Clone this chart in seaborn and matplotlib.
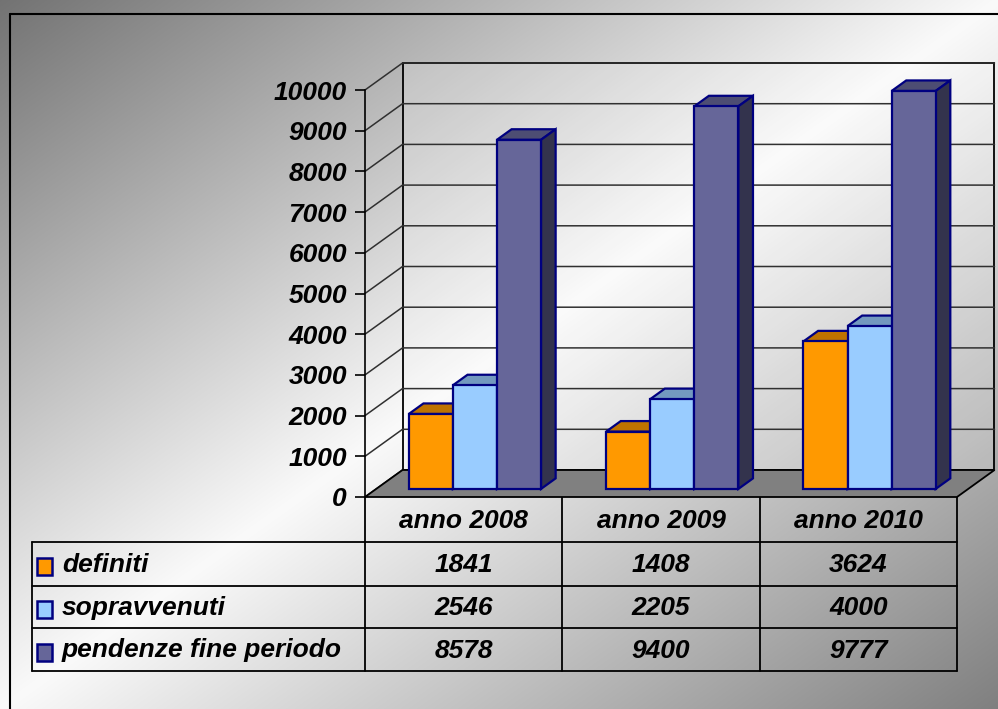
import numpy as np
import pandas as pd
import matplotlib
matplotlib.use("Agg")
import matplotlib.pyplot as plt
import seaborn as sns
from matplotlib.patches import Polygon, Rectangle
from matplotlib.transforms import ScaledTranslation

# data
years = ["anno 2008", "anno 2009", "anno 2010"]
series = ["definiti", "sopravvenuti", "pendenze fine periodo"]
definiti = [1841, 1408, 3624]
sopravvenuti = [2546, 2205, 4000]
pendenze = [8578, 9400, 9777]
colors = ["#FF9900", "#99CCFF", "#666699"]

df = pd.DataFrame({
    "anno": years * 3,
    "serie": [s for s in series for _ in years],
    "valore": definiti + sopravvenuti + pendenze,
})

sns.set_style("white")
plt.rcParams["font.family"] = ["Liberation Sans", "DejaVu Sans"]
FONT = dict(fontsize=19, fontweight="bold", fontstyle="italic", color="black")

W, H = 998, 709
fig = plt.figure(figsize=(W / 100, H / 100), dpi=100)
dpi = fig.dpi


def box(x0, y0, x1, y1):
    return [x0 / W, 1 - y1 / H, (x1 - x0) / W, (y1 - y0) / H]


# background with diagonal dark-light-dark gradient, in pixel coordinates
bg = fig.add_axes([0, 0, 1, 1], zorder=0)
gx, gy = np.meshgrid(np.arange(W), np.arange(H))
t = (gx / W + gy / H) / 2
shade = np.interp(t, [0, 0.5, 1], [0.45, 0.98, 0.5])
bg.imshow(np.dstack([shade] * 3), extent=(0, W, H, 0), aspect="auto")
bg.set_xlim(0, W)
bg.set_ylim(H, 0)
bg.axis("off")
bg.plot([10, W], [14, 14], color="black", lw=1.5)
bg.plot([10, 10], [14, H], color="black", lw=1.5)

# front plane of the 3d chart
ax = fig.add_axes(box(365, 90, 957, 497), zorder=1)
ax.patch.set_visible(False)
sns.barplot(data=df, x="anno", y="valore", hue="serie", palette=colors,
            saturation=1, width=0.67, edgecolor="#000080", linewidth=1.6,
            errorbar=None, legend=False, ax=ax)
ax.set_xlim(-0.5, 2.5)
ax.set_ylim(0, 10000)
ax.set_xticks([])
ax.set_xlabel("")
ax.set_ylabel("")
ax.set_yticks(range(0, 10001, 1000))
ax.set_yticklabels([str(v) for v in range(0, 10001, 1000)], **FONT)
ax.tick_params(axis="y", direction="out", length=7.5, width=1.2, pad=5.5,
               color="black", left=True)
for side in ["top", "right", "bottom"]:
    ax.spines[side].set_visible(False)
ax.spines["left"].set_color("black")
ax.spines["left"].set_linewidth(1.2)

DX, DY = 37.5, 27.0   # depth offset of the back wall, pixels
D0, D1 = 0.3, 0.69    # depth of bar front and back faces


def to_in(x, y, d):
    px, py = ax.transData.transform((x, y))
    return ((px + DX * d) / dpi, (py + DY * d) / dpi)


def face(pts, fc, ec="black", lw=1.0, z=0.5):
    poly = Polygon(pts, closed=True, facecolor=fc, edgecolor=ec, lw=lw,
                   transform=fig.dpi_scale_trans, clip_on=False, zorder=z,
                   joinstyle="miter")
    ax.add_artist(poly)


# floor and back wall
face([to_in(-0.5, 0, 0), to_in(2.5, 0, 0), to_in(2.5, 0, 1), to_in(-0.5, 0, 1)],
     "#808080", lw=1.3, z=0.4)
face([to_in(-0.5, 0, 1), to_in(2.5, 0, 1), to_in(2.5, 10000, 1), to_in(-0.5, 10000, 1)],
     (1, 1, 1, 0.18), lw=1.3, z=0.3)
for v in range(0, 10001, 1000):
    a, b = to_in(-0.5, v, 0), to_in(-0.5, v, 1)
    c = to_in(2.5, v, 1)
    ax.plot([a[0], b[0], c[0]], [a[1], b[1], c[1]], color="#303030", lw=1.1,
            transform=fig.dpi_scale_trans, clip_on=False, zorder=0.35)

# push the bars back into the box and give them top and side faces
shift = ScaledTranslation(DX * D0 / dpi, DY * D0 / dpi, fig.dpi_scale_trans)
for p in ax.patches:
    if not isinstance(p, Rectangle) or p.get_width() == 0:
        continue
    x, w, h = p.get_x(), p.get_width(), p.get_height()
    base = np.array(matplotlib.colors.to_rgb(p.get_facecolor()))
    p.set_transform(ax.transData + shift)
    p.set_clip_on(False)
    p.set_zorder(3)
    p.set_joinstyle("miter")
    face([to_in(x, h, D0), to_in(x + w, h, D0), to_in(x + w, h, D1), to_in(x, h, D1)],
         base * 0.75, ec="#000080", lw=1.6, z=2)
    face([to_in(x + w, 0, D0), to_in(x + w, h, D0), to_in(x + w, h, D1), to_in(x + w, 0, D1)],
         base * 0.5, ec="#000080", lw=1.6, z=2)

# data table under the chart
fig.canvas.draw()
col_px = [ax.transData.transform((c, 0))[0] for c in [-0.5, 0.5, 1.5, 2.5]]
rows = [497, 542, 586, 628, 671]
left = 32
for xc in col_px:
    bg.plot([xc, xc], [rows[0], rows[-1]], color="black", lw=1.3)
bg.plot([left, left], [rows[1], rows[-1]], color="black", lw=1.3)
for yr in rows[1:]:
    bg.plot([left, col_px[-1]], [yr, yr], color="black", lw=1.3)

for i, yname in enumerate(years):
    xc = (col_px[i] + col_px[i + 1]) / 2
    bg.text(xc, (rows[0] + rows[1]) / 2 + 1, yname, ha="center", va="center", **FONT)

values = [definiti, sopravvenuti, pendenze]
for r, name in enumerate(series):
    yc = (rows[r + 1] + rows[r + 2]) / 2 + 1
    bg.add_patch(Rectangle((37, yc - 7), 15, 17, facecolor=colors[r],
                           edgecolor="#000080", lw=1.8))
    bg.text(62, yc, name, ha="left", va="center", **FONT)
    for i, v in enumerate(values[r]):
        xc = (col_px[i] + col_px[i + 1]) / 2
        bg.text(xc, yc, str(v), ha="center", va="center", **FONT)

fig.savefig("out.png", dpi=100)
